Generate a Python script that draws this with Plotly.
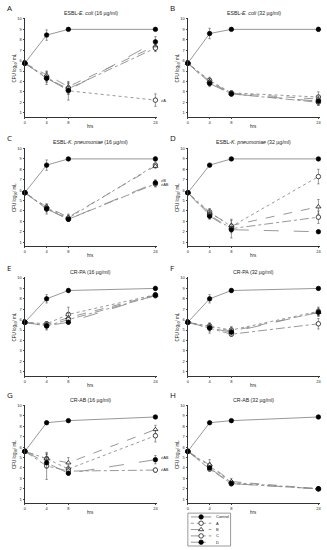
import plotly.graph_objects as go

W, H = 327, 550
HOURS = [0, 4, 8, 24]
SERIES = ["Control", "A", "B", "C", "D"]
X_TICKS = [0, 4, 8, 24]
Y_TICKS = [1, 2, 3, 4, 5, 6, 7, 8, 9, 10]
X_TITLE = "hrs"
Y_TITLE = "CFU log<sub>10</sub>/ mL"
PANEL_LETTERS = ["A", "B", "C", "D", "E", "F", "G", "H"]
PANEL_TITLES = [
    "ESBL-<i>E. coli</i> (16 µg/ml)",
    "ESBL-<i>E. coli</i> (32 µg/ml)",
    "ESBL-<i>K. pneumoniae</i> (16 µg/ml)",
    "ESBL-<i>K. pneumoniae</i> (32 µg/ml)",
    "CR-PA (16 µg/ml)",
    "CR-PA (32 µg/ml)",
    "CR-AB (16 µg/ml)",
    "CR-AB (32 µg/ml)",
]

# ---- data: mean log10 CFU/mL and error (per panel, per series) ----
ecoli16_control = [5.75, 8.45, 9.0, 9.0];  ecoli16_control_err = [0, 0.5, 0.1, 0.1]
ecoli16_a = [5.75, 4.4, 3.1, 2.2];         ecoli16_a_err = [0, 0.5, 0.9, 0.6]
ecoli16_b = [5.75, 4.6, 3.5, 7.4];         ecoli16_b_err = [0, 0.4, 0.4, 0.5]
ecoli16_c = [5.75, 4.3, 3.3, 7.2];         ecoli16_c_err = [0, 0.6, 0.5, 0.3]
ecoli16_d = [5.75, 4.3, 3.15, 7.8];        ecoli16_d_err = [0, 0.3, 0.4, 0.5]

ecoli32_control = [5.75, 8.6, 9.0, 9.0];   ecoli32_control_err = [0, 0.5, 0.1, 0.2]
ecoli32_a = [5.75, 4.1, 2.9, 2.5];         ecoli32_a_err = [0, 0.3, 0.2, 0.5]
ecoli32_b = [5.75, 4.0, 2.85, 2.3];        ecoli32_b_err = [0, 0.3, 0.2, 0.3]
ecoli32_c = [5.75, 3.9, 2.8, 2.0];         ecoli32_c_err = [0, 0.2, 0.2, 0.3]
ecoli32_d = [5.75, 3.8, 2.8, 2.1];         ecoli32_d_err = [0, 0.3, 0.2, 0.4]

kpn16_control = [5.75, 8.4, 9.0, 9.0];     kpn16_control_err = [0, 0.5, 0.1, 0.2]
kpn16_a = [5.75, 4.3, 3.3, 8.4];           kpn16_a_err = [0, 0.3, 0.3, 0.2]
kpn16_b = [5.75, 4.4, 3.4, 8.3];           kpn16_b_err = [0, 0.2, 0.3, 0.2]
kpn16_c = [5.75, 4.2, 3.2, 6.6];           kpn16_c_err = [0, 0.5, 0.2, 0.3]
kpn16_d = [5.75, 4.2, 3.2, 6.7];           kpn16_d_err = [0, 0.3, 0.2, 0.3]

kpn32_control = [5.75, 8.4, 9.0, 9.0];     kpn32_control_err = [0, 0.1, 0.1, 0.1]
kpn32_a = [5.75, 3.9, 2.5, 7.3];           kpn32_a_err = [0, 0.3, 0.3, 0.7]
kpn32_b = [5.75, 3.8, 2.6, 4.4];           kpn32_b_err = [0, 0.4, 0.5, 0.7]
kpn32_c = [5.75, 3.6, 2.3, 3.4];           kpn32_c_err = [0, 0.3, 0.9, 0.6]
kpn32_d = [5.75, 3.5, 2.2, 2.0];           kpn32_d_err = [0, 0.3, 0.3, 0.1]

pa16_control = [5.75, 8.0, 8.8, 9.0];      pa16_control_err = [0, 0.4, 0.2, 0.2]
pa16_a = [5.75, 5.6, 6.5, 8.4];            pa16_a_err = [0, 0.2, 0.7, 0.2]
pa16_b = [5.75, 5.5, 6.2, 8.35];           pa16_b_err = [0, 0.2, 0.4, 0.2]
pa16_c = [5.75, 5.4, 6.0, 8.3];            pa16_c_err = [0, 0.4, 0.3, 0.2]
pa16_d = [5.75, 5.4, 5.75, 8.35];          pa16_d_err = [0, 0.3, 0.2, 0.2]

pa32_control = [5.75, 8.0, 8.8, 9.0];      pa32_control_err = [0, 0.4, 0.2, 0.1]
pa32_a = [5.75, 5.4, 5.0, 6.8];            pa32_a_err = [0, 0.2, 0.3, 0.4]
pa32_b = [5.75, 5.3, 4.9, 6.7];            pa32_b_err = [0, 0.3, 0.4, 0.3]
pa32_c = [5.75, 5.2, 4.6, 5.6];            pa32_c_err = [0, 0.3, 0.2, 0.5]
pa32_d = [5.75, 5.2, 4.8, 6.7];            pa32_d_err = [0, 0.5, 0.3, 0.4]

ab16_control = [5.6, 8.35, 8.55, 8.9];     ab16_control_err = [0, 0.1, 0.1, 0.1]
ab16_a = [5.6, 4.9, 3.9, 7.1];             ab16_a_err = [0, 0.5, 0.3, 0.6]
ab16_b = [5.6, 4.9, 4.5, 7.7];             ab16_b_err = [0, 0.4, 0.5, 0.4]
ab16_c = [5.6, 4.2, 3.7, 3.8];             ab16_c_err = [0, 1.3, 0.3, 0.2]
ab16_d = [5.6, 4.5, 3.5, 4.8];             ab16_d_err = [0, 0.5, 0.2, 0.4]

ab32_control = [5.6, 8.35, 8.55, 8.9];     ab32_control_err = [0, 0.1, 0.1, 0.1]
ab32_a = [5.6, 4.2, 2.6, 2.0];             ab32_a_err = [0, 0.3, 0.2, 0.1]
ab32_b = [5.6, 4.3, 2.7, 2.0];             ab32_b_err = [0, 0.5, 0.3, 0.1]
ab32_c = [5.6, 3.9, 2.5, 2.0];             ab32_c_err = [0, 0.2, 0.2, 0.1]
ab32_d = [5.6, 4.0, 2.5, 2.0];             ab32_d_err = [0, 0.2, 0.2, 0.1]

# significance labels next to the 24 h points
SIG_PANELS = [0, 2, 2, 6, 6]
SIG_Y = [2.2, 6.95, 6.55, 5.0, 3.9]
SIG_TEXT = ["≠A", "≠B", "≠AB", "≠AB", "≠AB"]

panels = [
    ([ecoli16_control, ecoli16_a, ecoli16_b, ecoli16_c, ecoli16_d],
     [ecoli16_control_err, ecoli16_a_err, ecoli16_b_err, ecoli16_c_err, ecoli16_d_err]),
    ([ecoli32_control, ecoli32_a, ecoli32_b, ecoli32_c, ecoli32_d],
     [ecoli32_control_err, ecoli32_a_err, ecoli32_b_err, ecoli32_c_err, ecoli32_d_err]),
    ([kpn16_control, kpn16_a, kpn16_b, kpn16_c, kpn16_d],
     [kpn16_control_err, kpn16_a_err, kpn16_b_err, kpn16_c_err, kpn16_d_err]),
    ([kpn32_control, kpn32_a, kpn32_b, kpn32_c, kpn32_d],
     [kpn32_control_err, kpn32_a_err, kpn32_b_err, kpn32_c_err, kpn32_d_err]),
    ([pa16_control, pa16_a, pa16_b, pa16_c, pa16_d],
     [pa16_control_err, pa16_a_err, pa16_b_err, pa16_c_err, pa16_d_err]),
    ([pa32_control, pa32_a, pa32_b, pa32_c, pa32_d],
     [pa32_control_err, pa32_a_err, pa32_b_err, pa32_c_err, pa32_d_err]),
    ([ab16_control, ab16_a, ab16_b, ab16_c, ab16_d],
     [ab16_control_err, ab16_a_err, ab16_b_err, ab16_c_err, ab16_d_err]),
    ([ab32_control, ab32_a, ab32_b, ab32_c, ab32_d],
     [ab32_control_err, ab32_a_err, ab32_b_err, ab32_c_err, ab32_d_err]),
]

STYLE = {
    "Control": dict(dash="solid", symbol="circle", fill="black"),
    "A": dict(dash="dot", symbol="circle", fill="white"),
    "B": dict(dash="dash", symbol="triangle-up", fill="white"),
    "C": dict(dash="dashdot", symbol="circle", fill="white"),
    "D": dict(dash="longdash", symbol="circle", fill="black"),
}
LINE_COLOR = "#8c8c8c"
FONT = "Liberation Sans"

# ---- layout geometry (pixels) ----
COL_X = [(24, 157), (188, 321)]
ROW_B = [0, 130, 260, 388]
TOP_OFF, BOT_OFF = 16.5, 115


def px_x(p):
    return p / W


def px_y(p):
    return 1 - p / H


fig = go.Figure()
layout = dict(
    width=W, height=H, margin=dict(l=0, r=0, t=0, b=0),
    paper_bgcolor="white", plot_bgcolor="white", showlegend=False,
    font=dict(family=FONT, size=5, color="#222"),
)
annotations = []

for i, (vals, errs) in enumerate(panels):
    row, col = divmod(i, 2)
    x0, x1 = COL_X[col]
    b = ROW_B[row]
    n = i + 1
    xa = "x" if n == 1 else f"x{n}"
    ya = "y" if n == 1 else f"y{n}"
    layout[f"xaxis{'' if n == 1 else n}"] = dict(
        domain=[px_x(x0), px_x(x1)], anchor=ya, range=[0, 24.3],
        tickvals=X_TICKS, ticks="outside", ticklen=1.5, tickwidth=0.5,
        tickfont=dict(size=4), showline=True, linecolor="#333", linewidth=0.6,
        showgrid=False, zeroline=False,
    )
    layout[f"yaxis{'' if n == 1 else n}"] = dict(
        domain=[px_y(b + BOT_OFF), px_y(b + TOP_OFF)], anchor=xa, range=[0.62, 10.05],
        tickvals=Y_TICKS, ticks="outside", ticklen=1.5, tickwidth=0.5,
        tickfont=dict(size=4), showline=True, linecolor="#333", linewidth=0.6,
        showgrid=False, zeroline=False,
    )
    for name, v, e in zip(SERIES, vals, errs):
        st = STYLE[name]
        fig.add_trace(go.Scatter(
            x=HOURS, y=v, xaxis=xa, yaxis=ya, mode="lines+markers", name=name,
            cliponaxis=False,
            line=dict(color=LINE_COLOR, width=0.9, dash=st["dash"]),
            marker=dict(symbol=st["symbol"], size=4.5, color=st["fill"],
                        line=dict(color="black", width=0.7)),
            error_y=dict(type="data", array=e, visible=True, color="#555",
                         thickness=0.6, width=1.2),
        ))
    annotations.append(dict(
        text=PANEL_TITLES[i], xref="paper", yref="paper",
        x=px_x((x0 + x1) / 2), y=px_y(b + 11), xanchor="center", yanchor="middle",
        showarrow=False, font=dict(size=5.2, family=FONT),
    ))
    annotations.append(dict(
        text=PANEL_LETTERS[i], xref="paper", yref="paper",
        x=px_x(x0 - 20), y=px_y(b + 6), xanchor="left", yanchor="middle",
        showarrow=False, font=dict(size=8, family="Open Sans", color="#111"),
    ))
    # axis titles
    annotations.append(dict(
        text=X_TITLE, xref="paper", yref="paper",
        x=px_x((x0 + x1) / 2), y=px_y(b + 124.5), xanchor="center", yanchor="middle",
        showarrow=False, font=dict(size=4.5, family=FONT),
    ))
    annotations.append(dict(
        text=Y_TITLE, xref="paper", yref="paper", textangle=-90,
        x=px_x(x0 - 10), y=px_y(b + (TOP_OFF + BOT_OFF) / 2), xanchor="center",
        yanchor="middle", showarrow=False, font=dict(size=4.5, family=FONT),
    ))

for p, yv, t in zip(SIG_PANELS, SIG_Y, SIG_TEXT):
    n = p + 1
    annotations.append(dict(
        text=t, xref="x" if n == 1 else f"x{n}", yref="y" if n == 1 else f"y{n}",
        x=24, y=yv, xanchor="left", yanchor="middle", xshift=4,
        showarrow=False, font=dict(size=4, family=FONT),
    ))

# ---- legend (drawn in its own hidden axes) ----
LX0, LX1, LY0, LY1 = 188, 231, 513, 546
layout["xaxis9"] = dict(domain=[px_x(LX0), px_x(LX1)], anchor="y9", range=[0, 1],
                        visible=False, fixedrange=True)
layout["yaxis9"] = dict(domain=[px_y(LY1), px_y(LY0)], anchor="x9", range=[5.6, 0.4],
                        visible=False, fixedrange=True)
for k, name in enumerate(SERIES):
    st = STYLE[name]
    yk = k + 1
    fig.add_trace(go.Scatter(
        x=[0.07, 0.55], y=[yk, yk], xaxis="x9", yaxis="y9", mode="lines",
        line=dict(color=LINE_COLOR, width=0.9, dash=st["dash"]), hoverinfo="skip",
    ))
    fig.add_trace(go.Scatter(
        x=[0.31], y=[yk], xaxis="x9", yaxis="y9", mode="markers",
        marker=dict(symbol=st["symbol"], size=4.5, color=st["fill"],
                    line=dict(color="black", width=0.7)), hoverinfo="skip",
    ))
    annotations.append(dict(
        text=name, xref="x9", yref="y9", x=0.62, y=yk, xanchor="left",
        yanchor="middle", showarrow=False, font=dict(size=4, family=FONT),
    ))
layout["shapes"] = [dict(type="rect", xref="paper", yref="paper",
                         x0=px_x(LX0), x1=px_x(LX1), y0=px_y(LY1), y1=px_y(LY0),
                         line=dict(color="#555", width=0.6))]
layout["annotations"] = annotations
fig.update_layout(**layout)
fig.write_html("out.html", config={"displayModeBar": False},
               post_script="document.body.style.margin='0';document.body.style.overflow='hidden';")
